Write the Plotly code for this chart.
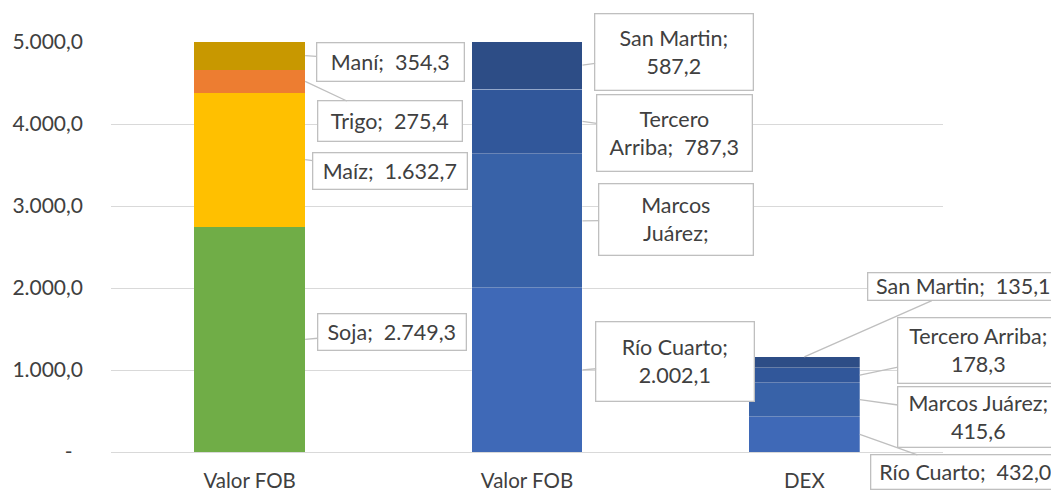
import plotly.graph_objects as go

# ---------------- data ----------------
categorias = ["Valor FOB", "Valor FOB", "DEX"]

cultivos = ["Soja", "Maíz", "Trigo", "Maní"]
cultivo_fob = [2749.3, 1632.7, 275.4, 354.3]
cultivo_colores = ["#70AD47", "#FFC000", "#ED7D31", "#C89800"]

regiones = ["Río Cuarto", "Marcos Juárez", "Tercero Arriba", "San Martin"]
region_fob = [2002.1, 1635.1, 787.3, 587.2]
region_dex = [432.0, 415.6, 178.3, 135.1]
region_colores = ["#3F69B7", "#3862A8", "#31579A", "#2D4D86"]

y_ticks = [0, 1000, 2000, 3000, 4000, 5000]
y_ticktext = ["-\u2002", "1.000,0", "2.000,0", "3.000,0", "4.000,0", "5.000,0"]

FONT = "Lato, Calibri, 'DejaVu Sans', sans-serif"
TXT = "#404040"
BAR_W = 0.4


def fmt(v):
    s = f"{v:,.1f}"
    return s.replace(",", "X").replace(".", ",").replace("X", ".")


fig = go.Figure()

for name, val, col in zip(cultivos, cultivo_fob, cultivo_colores):
    fig.add_trace(go.Bar(x=[0], y=[val], name=name, width=BAR_W,
                         marker=dict(color=col, line=dict(width=0))))

for name, vf, vd, col in zip(regiones, region_fob, region_dex, region_colores):
    fig.add_trace(go.Bar(x=[1, 2], y=[vf, vd], name=name, width=BAR_W,
                         marker=dict(color=col,
                                     line=dict(width=0.8, color="rgba(255,255,255,0.35)"))))

# ---------------- callout labels ----------------
SP = ";\u00a0 "
# label layout styles: (text template, ax, ay, width, height)
left_style = [
    ("{n}" + SP + "{v}", 87, -7, 143, 31),
    ("{n}" + SP + "{v}", 85, 11, 149, 31),
    ("{n}" + SP + "{v}", 85, 40, 139, 35),
    ("{n}" + SP + "{v}", 85, 6, 142, 33),
]
mid_style = [
    ("Río Cuarto;<br>{v}", 93, -8, 153, 74),
    ("Marcos<br>Juárez;", 94, -1, 149, 66),
    ("Tercero<br>Arriba" + SP + "{v}", 92, 12, 150, 71),
    ("San Martin;<br>{v}", 92, -13, 153, 71),
]
dex_style = [
    ("{n}" + SP + "{v}", 106, 38, 184, 29),
    ("Marcos Juárez;<br>{v}", 119, 17, 156, 55),
    ("Tercero Arriba;<br>{v}", 119, -25, 156, 60),
    ("{n}" + SP + "{v}", 159, -70, 186, 22),
]


def callout(x, y, text, ax, ay, w, h):
    fig.add_annotation(
        x=x, y=y, xref="x", yref="y", text=text,
        showarrow=True, arrowhead=0, arrowwidth=1.3, arrowcolor="#BFBFBF",
        ax=ax, ay=ay, axref="pixel", ayref="pixel",
        width=w, height=h, align="center", valign="middle",
        bgcolor="white", bordercolor="#BFBFBF", borderwidth=1.3, borderpad=2,
        font=dict(family=FONT, size=21.5, color=TXT),
    )


cum = 0
for name, val, st in zip(cultivos, cultivo_fob, left_style):
    tpl, ax, ay, w, h = st
    callout(0 + BAR_W / 2, cum + val / 2, tpl.format(n=name, v=fmt(val)), ax, ay, w, h)
    cum += val

cum = 0
for name, val, st in zip(regiones, region_fob, mid_style):
    tpl, ax, ay, w, h = st
    callout(1 + BAR_W / 2, cum + val / 2, tpl.format(n=name, v=fmt(val)), ax, ay, w, h)
    cum += val

cum = 0
total_dex = sum(region_dex)
for i, (name, val, st) in enumerate(zip(regiones, region_dex, dex_style)):
    tpl, ax, ay, w, h = st
    if i == len(regiones) - 1:
        px, py = 2, total_dex
    else:
        px, py = 2 + BAR_W / 2, cum + val / 2
    callout(px, py, tpl.format(n=name, v=fmt(val)), ax, ay, w, h)
    cum += val

# the page body adds an 8px offset, so the figure is sized to fill the rest
fig.update_layout(
    barmode="stack",
    width=1051, height=486,
    margin=dict(l=103, r=116, t=34, b=42, autoexpand=False),
    paper_bgcolor="white", plot_bgcolor="white",
    showlegend=False,
    font=dict(family=FONT, size=21, color=TXT),
    xaxis=dict(
        range=[-0.5, 2.5], tickmode="array", tickvals=[0, 1, 2], ticktext=categorias,
        showgrid=False, zeroline=False, showline=True, linecolor="#D9D9D9", linewidth=1.3,
        ticks="", ticklabelstandoff=10, automargin=False,
        tickfont=dict(family=FONT, size=20.5, color=TXT),
    ),
    yaxis=dict(
        range=[0, 5000], tickmode="array", tickvals=y_ticks, ticktext=y_ticktext,
        showgrid=True, gridcolor="#D9D9D9", gridwidth=1.3, zeroline=False,
        showline=False, ticks="", ticklabelstandoff=27, automargin=False,
        tickfont=dict(family=FONT, size=21, color=TXT),
    ),
)

fig.write_html("out.html")
